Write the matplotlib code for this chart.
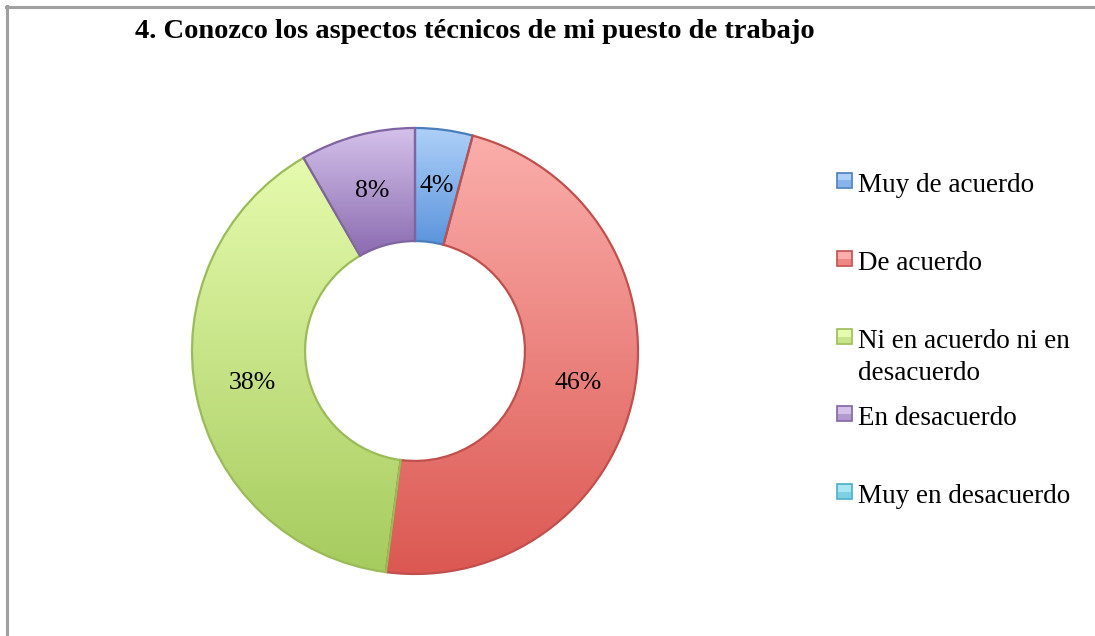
import numpy as np
import matplotlib
matplotlib.use("Agg")
import matplotlib.pyplot as plt
from matplotlib.colors import LinearSegmentedColormap
from matplotlib.patches import Rectangle
from matplotlib.lines import Line2D

title = "4. Conozco los aspectos técnicos de mi puesto de trabajo"
categories = ["Muy de acuerdo", "De acuerdo", "Ni en acuerdo ni en\ndesacuerdo",
              "En desacuerdo", "Muy en desacuerdo"]
values = [4, 46, 38, 8, 0]
pct_labels = ["4%", "46%", "38%", "8%", ""]

# gradient (top light -> bottom dark) and edge colours per category
top_colors = ["#aed0f8", "#fbaeab", "#e6fbae", "#d4c1ea", "#a8e6f2"]
bot_colors = ["#5b94dc", "#dc5852", "#a6cb5e", "#8a6bb0", "#4bb9d2"]
edge_colors = ["#4a7ebb", "#c0504d", "#9bbb59", "#8064a2", "#4bacc6"]

FONT = "Liberation Serif"

fig = plt.figure(figsize=(10.95, 6.36), dpi=100)
W, H = 1095, 636

# frame (top & left visible)
fig.add_artist(Line2D([6 / W, 1.0], [1 - 6.5 / H, 1 - 6.5 / H], color="#a0a0a0", lw=2.2))
fig.add_artist(Line2D([6.5 / W, 6.5 / W], [0, 1 - 6 / H], color="#a0a0a0", lw=2.2))

# pie axes: center (415, 351), radius 223 px
cx, cy, R = 415, 351, 223
ax = fig.add_axes([(cx - R) / W, 1 - (cy + R) / H, 2 * R / W, 2 * R / H])
wedges, _ = ax.pie(values, startangle=90, counterclock=False, radius=1.0,
                   wedgeprops=dict(width=0.507, linewidth=1.6))
grad = np.linspace(0, 1, 256).reshape(-1, 1)
for w, v, tc, bc, ec in zip(wedges, values, top_colors, bot_colors, edge_colors):
    w.set_facecolor("none")
    w.set_edgecolor(ec)
    w.set_zorder(3)
    if v == 0:
        w.set_linewidth(0)
        w.set_visible(False)
        continue
    ext = w.get_path().get_extents()
    cmap = LinearSegmentedColormap.from_list("g", [tc, bc])
    im = ax.imshow(grad, cmap=cmap, aspect="auto", origin="upper",
                   extent=(ext.x0, ext.x1, ext.y0, ext.y1), zorder=2,
                   interpolation="bilinear")
    im.set_clip_path(w)

# percentage labels
total = sum(values)
start = 90.0
for v, lab in zip(values, pct_labels):
    ang = start - 360.0 * v / total / 2
    start -= 360.0 * v / total
    if not lab:
        continue
    r = 0.745
    ax.text(r * np.cos(np.radians(ang)), r * np.sin(np.radians(ang)), lab,
            ha="center", va="center", fontsize=18.5, family=FONT, color="#000000", zorder=5)

ax.set_xlim(-1.0, 1.0)
ax.set_ylim(-1.0, 1.0)
ax.set_aspect("equal")
ax.axis("off")

# title
fig.text(475 / W, 1 - 31 / H, title, ha="center", va="center", fontsize=20.5,
         fontweight="bold", family=FONT)

# legend (manual)
leg_y = [180, 258, 336, 413, 491]
for y, cat, tc, bc, ec in zip(leg_y, categories, top_colors, bot_colors, edge_colors):
    sq = Rectangle((837 / W, 1 - (y + 8) / H), 15 / W, 15 / H, transform=fig.transFigure,
                   facecolor=tc, edgecolor=ec, lw=1.2)
    fig.add_artist(sq)
    sq2 = Rectangle((837.5 / W, 1 - (y + 7.5) / H), 14 / W, 7 / H, transform=fig.transFigure,
                    facecolor=bc, edgecolor="none", alpha=0.45)
    fig.add_artist(sq2)
    fig.text(858 / W, 1 - (y - 7) / H, cat, ha="left", va="top", fontsize=19.5,
             family=FONT, linespacing=1.38)

fig.savefig("out.png", dpi=100, facecolor="white")
